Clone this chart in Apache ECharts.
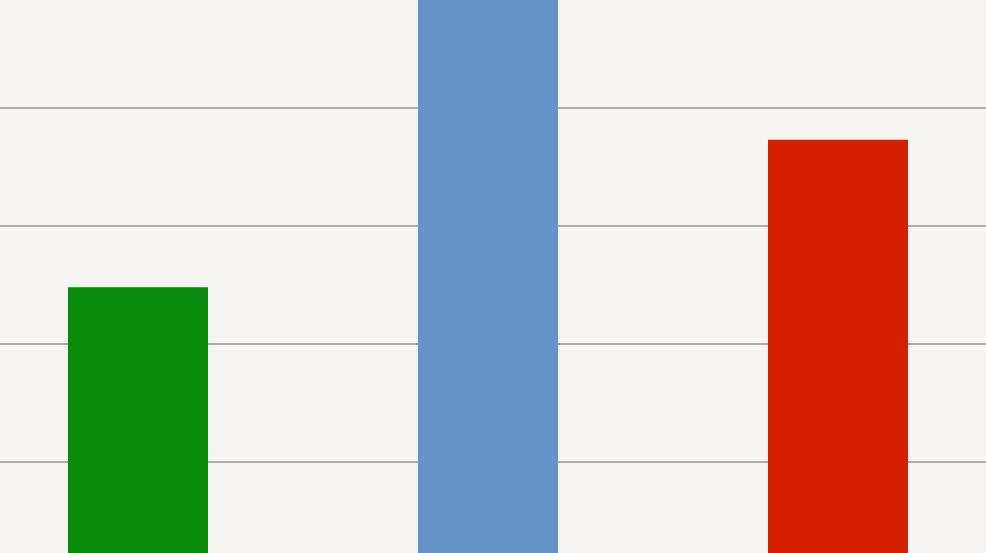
<!DOCTYPE html>
<html><head><meta charset="utf-8">
<script src="https://cdn.jsdelivr.net/npm/echarts@6/dist/echarts.min.js"></script>
<style>html,body{margin:0;padding:0;background:#f6f5f1;}#c{width:986px;height:553px;}</style>
</head><body><div id="c"></div>
<script>
const categories = ['A', 'B', 'C'];
const values = [2.48, 5.3, 3.73];
const colors = ['#0a8a0a', '#6494c8', '#d42000'];

const chart = echarts.init(document.getElementById('c'));
chart.setOption({
  backgroundColor: '#f6f5f1',
  animation: false,
  grid: { left: -37, top: -10, width: 1050, height: 590, outerBoundsMode: 'none', containLabel: false },
  xAxis: {
    type: 'category', data: categories,
    axisLine: { show: false }, axisTick: { show: false }, axisLabel: { show: false }
  },
  yAxis: {
    type: 'value', min: 0, max: 5, interval: 1,
    axisLine: { show: false }, axisTick: { show: false }, axisLabel: { show: false },
    splitLine: { lineStyle: { color: '#acaca8', width: 2 } }
  },
  series: [{
    type: 'bar', barWidth: 140, clip: true,
    data: values.map((v, i) => ({ value: v, itemStyle: { color: colors[i] } }))
  }]
});
</script></body></html>
